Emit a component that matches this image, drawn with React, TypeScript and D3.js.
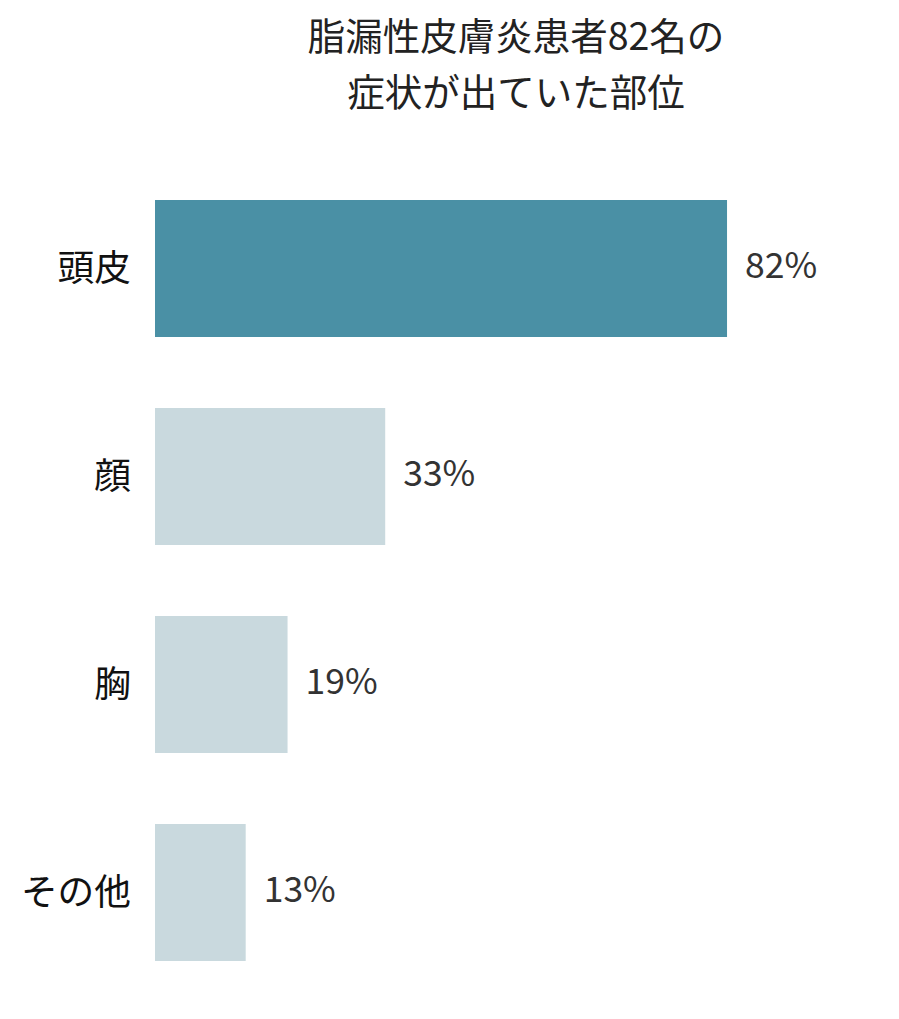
import * as d3 from 'd3'
import React from 'react'

const categories = ['頭皮', '顔', '胸', 'その他']
const values = [82, 33, 19, 13]
const titleLines = ['脂漏性皮膚炎患者82名の', '症状が出ていた部位']

const W = 899, H = 1019

export default function App() {
  const
    x = d3.scaleLinear().domain([0, 100]).range([155, 852.6]),
    y = d3.scaleBand<string>().domain(categories).range([164.5, 996.5])
      .paddingInner(71 / 208).paddingOuter(71 / 416),
    font = '"Noto Sans CJK JP", "Noto Sans", sans-serif'

  return (
    <svg width={W} height={H} style={{ position: 'absolute', left: 0, top: 0 }} fontFamily={font}>
      <rect width={W} height={H} fill='#fff' />
      {titleLines.map((t, i) => (
        <text key={t} x={516} y={50 + i * 56} textAnchor='middle' fontSize={37.5} fill='#222'>{t}</text>
      ))}
      {categories.map((c, i) => {
        const y0 = y(c)!, bw = y.bandwidth(), cy = y0 + bw / 2
        return (
          <g key={c}>
            <rect x={x(0)} y={y0} width={x(values[i]) - x(0)} height={bw} fill={i === 0 ? '#4a90a5' : '#c9d9de'} />
            <text x={131} y={cy} dy='0.35em' textAnchor='end' fontSize={36.7} fill='#111'>{c}</text>
            <text x={x(values[i]) + 18} y={cy} dy='0.28em' fontSize={35.5} fill='#333'>{values[i]}%</text>
          </g>
        )
      })}
    </svg>
  )
}
